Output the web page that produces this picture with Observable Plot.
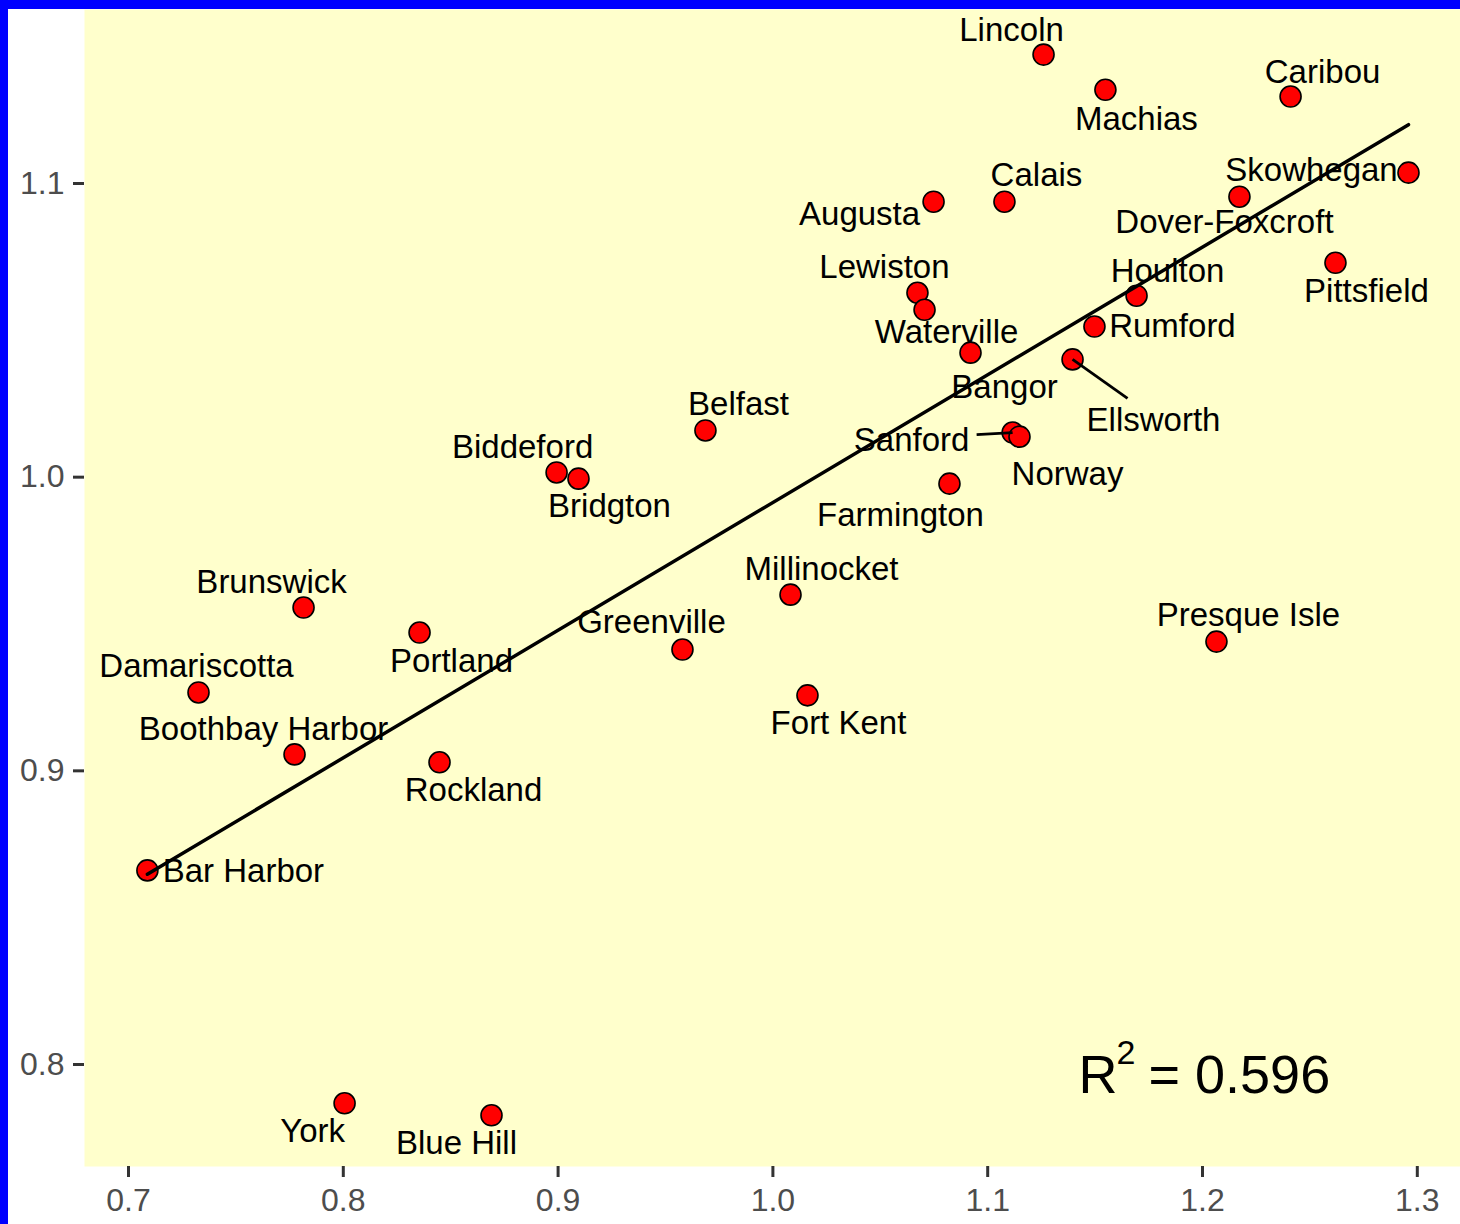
<!DOCTYPE html>
<html><head><meta charset="utf-8">
<script src="https://cdn.jsdelivr.net/npm/d3@7"></script>
<script src="https://cdn.jsdelivr.net/npm/@observablehq/plot@0.6"></script>
<style>
body{margin:0;background:#fff;}
#wrap{border-top:9px solid #0000ff;border-left:8px solid #0000ff;width:1452px;height:1215px;overflow:hidden;}
</style></head><body><div id="wrap"></div>
<script>
const cities = ["Lincoln","Machias","Caribou","Skowhegan","Dover-Foxcroft","Augusta","Calais","Pittsfield","Lewiston","Waterville","Bangor","Houlton","Rumford","Ellsworth","Belfast","Sanford","Norway","Biddeford","Bridgton","Farmington","Millinocket","Brunswick","Portland","Presque Isle","Greenville","Damariscotta","Fort Kent","Boothbay Harbor","Rockland","Bar Harbor","York","Blue Hill"];
const xValues = [1.126,1.1548,1.241,1.2959,1.2172,1.0748,1.1078,1.2619,1.0673,1.0706,1.0920,1.1693,1.1497,1.1395,0.9686,1.1116,1.1148,0.8993,0.9095,1.0822,1.0082,0.7815,0.8355,1.2065,0.9579,0.7326,1.0161,0.7773,0.8448,0.7088,0.8006,0.8690];
const yValues = [1.1439,1.1319,1.1296,1.1037,1.0955,1.0938,1.0938,1.0730,1.0628,1.0570,1.0424,1.0618,1.0513,1.0401,1.0159,1.0152,1.0138,1.0016,0.9995,0.9978,0.9600,0.9556,0.9471,0.9440,0.9413,0.9267,0.9257,0.9056,0.9029,0.8661,0.7868,0.7827];
const xTicks = [0.7,0.8,0.9,1.0,1.1,1.2,1.3];
const yTicks = [0.8,0.9,1.0,1.1];
const r2Text = "= 0.596";

// layout (pixel nudges of the repelled labels)
const labelNudge = {
  "Lincoln":[-32,-24],"Machias":[31,30],"Caribou":[32,-24],"Skowhegan":[-97,-2],
  "Dover-Foxcroft":[-15,26],"Augusta":[-74,13],"Calais":[32,-26],"Pittsfield":[31,29],
  "Lewiston":[-33,-25],"Waterville":[22,23],"Bangor":[34,35],"Houlton":[31,-24],
  "Rumford":[78,0],"Ellsworth":[81,61],"Belfast":[33,-26],"Sanford":[-101,8],
  "Norway":[48,38],"Biddeford":[-34,-25],"Bridgton":[31,28],"Farmington":[-49,32],
  "Millinocket":[31,-25],"Brunswick":[-32,-25],"Portland":[32,29],"Presque Isle":[32,-26],
  "Greenville":[-31,-27],"Damariscotta":[-2,-26],"Fort Kent":[31,28],"Boothbay Harbor":[-31,-25],
  "Rockland":[34,28],"Bar Harbor":[96,1],"York":[-32,28],"Blue Hill":[-35,28]
};
const leaderNudge = {"Ellsworth":[55,39],"Sanford":[-36,2]};

const W = 1452, H = 1215, mL = 76, mR = 0, mT = 0, mB = 58;
const xDomain = [0.67952, 1.32011], yDomain = [0.76527, 1.15925];
const kx = (W - mL - mR) / (xDomain[1] - xDomain[0]);
const ky = (H - mT - mB) / (yDomain[1] - yDomain[0]);

const data = cities.map((c, i) => ({city: c, x: xValues[i], y: yValues[i]}));
const leaders = data.filter(d => leaderNudge[d.city]).map(d => ({
  x1: d.x, y1: d.y,
  x2: d.x + leaderNudge[d.city][0] / kx,
  y2: d.y - leaderNudge[d.city][1] / ky
}));

const FONT = "Liberation Sans, Arial, sans-serif";
const labelMarks = data.map(d => Plot.text([d], {
  x: "x", y: "y", text: "city",
  dx: labelNudge[d.city][0], dy: labelNudge[d.city][1],
  fontSize: 33, fill: "black", fontFamily: FONT
}));

const chart = Plot.plot({
  width: W, height: H,
  marginLeft: mL, marginRight: mR, marginTop: mT, marginBottom: mB,
  style: {background: "white", fontFamily: FONT, overflow: "visible"},
  x: {domain: xDomain},
  y: {domain: yDomain},
  marks: [
    Plot.frame({fill: "#ffffcc", stroke: null}),
    Plot.axisX(xTicks, {tickFormat: d3.format(".1f"), tickSize: 11, tickPadding: 11, fontSize: 32, fill: "#4d4d4d", stroke: "#333333", strokeWidth: 3, label: null}),
    Plot.axisY(yTicks, {tickFormat: d3.format(".1f"), tickSize: 11, tickPadding: 9, fontSize: 32, fill: "#4d4d4d", stroke: "#333333", strokeWidth: 3, label: null}),
    Plot.dot(data, {x: "x", y: "y", r: 10.5, fill: "#ff0000", stroke: "black", strokeWidth: 1.6}),
    Plot.linearRegressionY(data, {x: "x", y: "y", stroke: "black", strokeWidth: 3.5, ci: 0}),
    Plot.link(leaders, {x1: "x1", y1: "y1", x2: "x2", y2: "y2", stroke: "black", strokeWidth: 2.8}),
    ...labelMarks,
    Plot.text([{x: 1.2, y: 0.8}], {x: "x", y: "y", text: () => "R", textAnchor: "start", lineAnchor: "bottom", dx: -124, dy: 28, fontSize: 54, fill: "black", fontFamily: FONT}),
    Plot.text([{x: 1.2, y: 0.8}], {x: "x", y: "y", text: () => "2", textAnchor: "start", lineAnchor: "bottom", dx: -86, dy: -1, fontSize: 34, fill: "black", fontFamily: FONT}),
    Plot.text([{x: 1.2, y: 0.8}], {x: "x", y: "y", text: () => r2Text, textAnchor: "start", lineAnchor: "bottom", dx: -54, dy: 28, fontSize: 54, fill: "black", fontFamily: FONT})
  ]
});
document.getElementById("wrap").appendChild(chart);
</script>
</body></html>
